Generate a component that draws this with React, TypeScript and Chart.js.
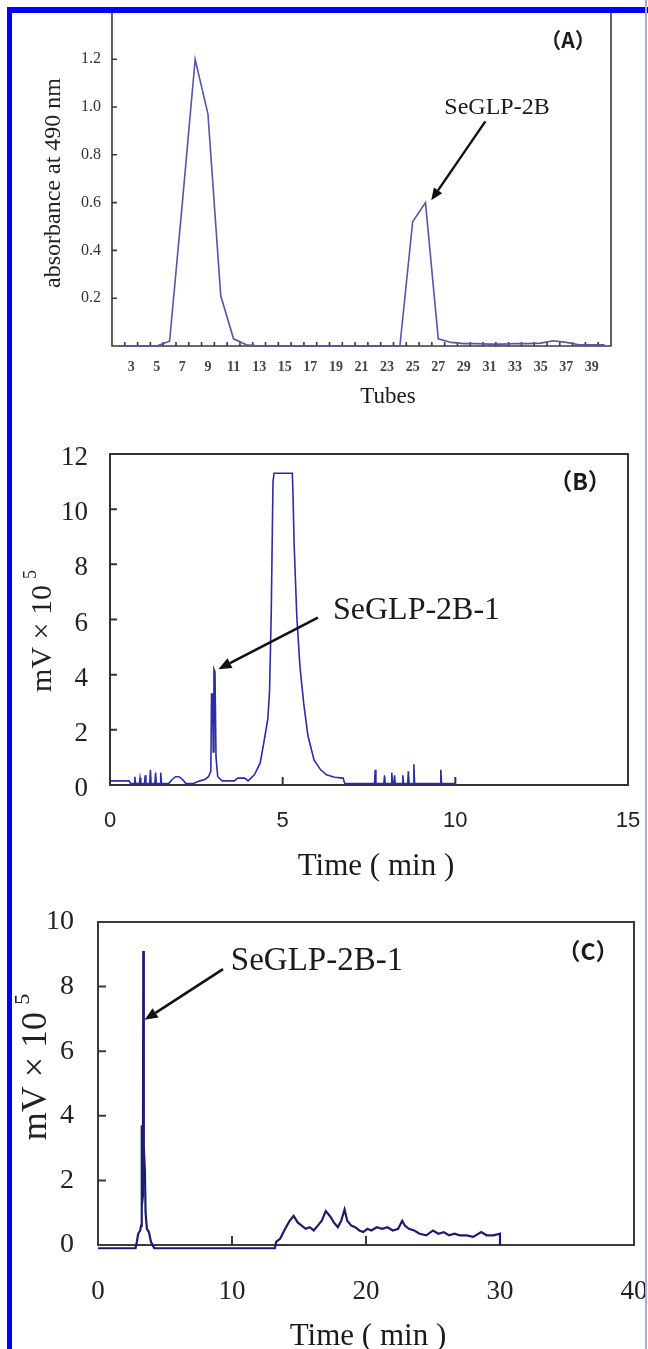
import React, { useEffect, useRef } from "react";
import { Chart, registerables } from "chart.js";

Chart.register(...registerables);

const SERIF = '"Liberation Serif", "Times New Roman", serif';
const SANS = '"Liberation Sans", Arial, sans-serif';
const CJK = '"Noto Sans CJK SC", "Noto Sans", sans-serif';

// ---------- Panel A: gel-filtration elution profile ----------
const A_TUBES = [2, 3, 4, 5, 6, 7, 8, 9, 10, 11, 12, 13, 14, 15, 16, 17, 18, 19, 20, 21, 22, 23, 24, 25, 26, 27, 28, 29, 30, 31, 32, 33, 34, 35, 36, 37, 38, 39, 40];
const A_ABSORBANCE = [
  0, 0, 0, 0, 0.02, 0.6, 1.2, 0.97, 0.21, 0.03, 0.005,
  0, 0, 0, 0, 0, 0, 0, 0, 0, 0, 0, 0,
  0.52, 0.6, 0.03, 0.015, 0.01, 0.01, 0.008, 0.008, 0.01, 0.01, 0.012, 0.022, 0.015, 0.005, 0.005, 0.005,
];
const A_X_TICK_LABELS = [3, 5, 7, 9, 11, 13, 15, 17, 19, 21, 23, 25, 27, 29, 31, 33, 35, 37, 39];
const A_X_TICK_MARKS = [2.5, 3.5, 4.5, 5.5, 6.5, 7.5, 8.5, 9.5, 10.5, 11.5, 12.5, 13.5, 14.5, 15.5, 16.5, 17.5, 18.5, 19.5, 20.5, 21.5, 22.5, 23.5, 24.5, 25.5, 26.5, 27.5, 28.5, 29.5, 30.5, 31.5, 32.5, 33.5, 34.5, 35.5, 36.5, 37.5, 38.5, 39.5];
const A_Y_TICKS = [0.2, 0.4, 0.6, 0.8, 1.0, 1.2];

// ---------- Panel B: HPLC of SeGLP-2B ----------
const B_TIME = [
  0, 0.55, 0.6, 0.7, 0.72, 0.74, 0.85, 0.87, 0.89, 1.0,
  1.02, 1.04, 1.15, 1.17, 1.19, 1.3, 1.32, 1.34, 1.45, 1.47,
  1.49, 1.7, 1.8, 1.9, 2.0, 2.1, 2.2, 2.4, 2.5, 2.6,
  2.75, 2.85, 2.92, 2.94, 2.97, 2.99, 3.01, 3.04, 3.07, 3.12,
  3.25, 3.6, 3.7, 3.9, 4.0, 4.18, 4.35, 4.47, 4.57, 4.62,
  4.67, 4.72, 4.75, 5.28, 5.3, 5.33, 5.41, 5.5, 5.61, 5.73,
  5.91, 6.1, 6.27, 6.5, 6.75, 6.8, 7.66, 7.68, 7.7, 7.93,
  7.95, 7.97, 8.14, 8.16, 8.18, 8.22, 8.24, 8.26, 8.46, 8.48,
  8.5, 8.62, 8.64, 8.66, 8.78, 8.8, 8.82, 9.56, 9.58, 9.6,
  10.0,
];
const B_SIGNAL = [
  0.15, 0.15, 0.05, 0.05, 0.3, 0.05, 0.05, 0.25, 0.05, 0.05,
  0.35, 0.05, 0.05, 0.55, 0.05, 0.05, 0.45, 0.05, 0.05, 0.45,
  0.05, 0.05, 0.2, 0.3, 0.3, 0.2, 0.05, 0.05, 0.1, 0.15,
  0.2, 0.3, 0.5, 3.3, 3.3, 1.2, 4.2, 4.1, 1.0, 0.3,
  0.15, 0.15, 0.25, 0.25, 0.15, 0.37, 0.8, 1.65, 2.4, 3.4,
  6.3, 11.0, 11.3, 11.3, 10.5, 8.8, 6.1, 4.3, 2.95, 1.8,
  0.9, 0.55, 0.37, 0.28, 0.25, 0.05, 0.05, 0.55, 0.05, 0.05,
  0.35, 0.05, 0.05, 0.45, 0.05, 0.05, 0.35, 0.05, 0.05, 0.35,
  0.05, 0.05, 0.5, 0.05, 0.05, 0.75, 0.05, 0.05, 0.55, 0.05,
  0.05,
];
const B_X_TICKS = [0, 5, 10, 15];
const B_Y_TICKS = [0, 2, 4, 6, 8, 10, 12];

// ---------- Panel C: HPLC of SeGLP-2B-1 ----------
const C_TIME = [
  0, 2.8, 2.9, 3.0, 3.15, 3.22, 3.25, 3.28, 3.35, 3.38,
  3.42, 3.5, 3.55, 3.65, 3.8, 3.95, 4.2, 13.2, 13.3, 13.6,
  13.9, 14.1, 14.3, 14.6, 14.9, 15.2, 15.5, 15.8, 16.1, 16.4,
  16.7, 17.0, 17.3, 17.6, 17.9, 18.15, 18.4, 18.6, 18.9, 19.2,
  19.5, 19.8, 20.1, 20.4, 20.8, 21.2, 21.6, 22.0, 22.4, 22.7,
  22.9, 23.2, 23.6, 24.0, 24.5, 25.0, 25.4, 25.8, 26.2, 26.6,
  27.0, 27.5, 28.0, 28.6, 29.0, 29.5, 30.0, 30.0,
];
const C_SIGNAL = [
  -0.1, -0.1, 0.1, 0.35, 0.45, 0.6, 3.7, 1.2, 1.5, 9.1,
  3.0, 2.3, 1.0, 0.5, 0.4, 0.1, -0.1, -0.1, 0.1, 0.2,
  0.45, 0.6, 0.75, 0.9, 0.7, 0.6, 0.5, 0.55, 0.45, 0.6,
  0.75, 1.05, 0.9, 0.7, 0.55, 0.75, 1.1, 0.75, 0.6, 0.55,
  0.45, 0.4, 0.5, 0.45, 0.55, 0.5, 0.55, 0.45, 0.5, 0.75,
  0.6, 0.5, 0.45, 0.35, 0.3, 0.45, 0.35, 0.4, 0.3, 0.35,
  0.3, 0.3, 0.25, 0.4, 0.3, 0.3, 0.35, 0.0,
];
const C_X_TICKS = [0, 10, 20, 30, 40];
const C_X_TICK_MARKS = [10, 20, 30];
const C_Y_TICKS = [0, 2, 4, 6, 8, 10];

type TextItem = { text: string; font: string; x: number; y: number; align?: CanvasTextAlign; color?: string };

type PanelSpec = {
  top: number;
  height: number;
  area: { left: number; top: number; right: number; bottom: number };
  xMin: number; xMax: number; yMin: number; yMax: number;
  xs: number[]; ys: number[];
  color: string; lineWidth: number;
  xTicks: number[]; yTicks: number[];
  xFmt: (v: number) => string; yFmt: (v: number) => string;
  xTickFont: any; yTickFont: any; xTickColor: string; yTickColor: string;
  xTickPad: number; yTickPad: number; yLabelOffset: number;
  xMarks: number[]; yMarks: number[]; xMarkLen: number; yMarkLen: number;
  frameTop: boolean; frameWidth: number; frameColor: string;
  texts: TextItem[];
  yTitle: { main: string; sup: string; size: number; x: number; y: number; color: string };
  arrow: { from: [number, number]; to: [number, number]; width: number; head: number };
};

const W = 648;

const PANELS: PanelSpec[] = [
  {
    top: 0, height: 420,
    area: { left: 112, top: 11.4, right: 611, bottom: 346 },
    xMin: 1.5, xMax: 40.5, yMin: 0, yMax: 1.4,
    xs: A_TUBES, ys: A_ABSORBANCE, color: "#5656a8", lineWidth: 1.6,
    xTicks: A_X_TICK_LABELS, yTicks: A_Y_TICKS,
    xFmt: (v) => String(v), yFmt: (v) => v.toFixed(1),
    xTickFont: { family: SERIF, size: 14, weight: "bold" },
    yTickFont: { family: SERIF, size: 16 },
    xTickColor: "#444", yTickColor: "#333",
    xTickPad: 13, yTickPad: 11, yLabelOffset: 0,
    xMarks: A_X_TICK_MARKS, yMarks: A_Y_TICKS, xMarkLen: 4, yMarkLen: 5,
    frameTop: false, frameWidth: 1.6, frameColor: "#3a3a3a",
    texts: [
      { text: "（A）", font: `bold 21px ${CJK}`, x: 568, y: 40 },
      { text: "SeGLP-2B", font: `24px ${SERIF}`, x: 497, y: 108 },
      { text: "Tubes", font: `23px ${SERIF}`, x: 388, y: 397 },
    ],
    yTitle: { main: "absorbance at 490 nm", sup: "", size: 24, x: 54, y: 183, color: "#222" },
    arrow: { from: [30.68, 0.94], to: [26.45, 0.61], width: 2.4, head: 12 },
  },
  {
    top: 420, height: 480,
    area: { left: 110, top: 34, right: 628, bottom: 365 },
    xMin: 0, xMax: 15, yMin: 0, yMax: 12,
    xs: B_TIME, ys: B_SIGNAL, color: "#2c2ca4", lineWidth: 1.6,
    xTicks: B_X_TICKS, yTicks: B_Y_TICKS,
    xFmt: (v) => String(v), yFmt: (v) => String(v),
    xTickFont: { family: SANS, size: 22 },
    yTickFont: { family: SERIF, size: 27 },
    xTickColor: "#222", yTickColor: "#222",
    xTickPad: 23, yTickPad: 22, yLabelOffset: 4,
    xMarks: [5, 10], yMarks: B_Y_TICKS, xMarkLen: 8, yMarkLen: 7,
    frameTop: true, frameWidth: 2, frameColor: "#333",
    texts: [
      { text: "（B）", font: `bold 23px ${CJK}`, x: 580, y: 61 },
      { text: "SeGLP-2B-1", font: `32px ${SERIF}`, x: 333, y: 191, align: "left" },
      { text: "Time ( min )", font: `31px ${SERIF}`, x: 376, y: 447 },
    ],
    yTitle: { main: "mV × 10", sup: "5", size: 30, x: 43, y: 211, color: "#222" },
    arrow: { from: [6.02, 6.07], to: [3.14, 4.2], width: 2.6, head: 13 },
  },
  {
    top: 900, height: 449,
    area: { left: 98, top: 22, right: 634, bottom: 345 },
    xMin: 0, xMax: 40, yMin: 0, yMax: 10,
    xs: C_TIME, ys: C_SIGNAL, color: "#1c1c6c", lineWidth: 2.2,
    xTicks: C_X_TICKS, yTicks: C_Y_TICKS,
    xFmt: (v) => String(v), yFmt: (v) => String(v),
    xTickFont: { family: SERIF, size: 27 },
    yTickFont: { family: SERIF, size: 28 },
    xTickColor: "#222", yTickColor: "#222",
    xTickPad: 31, yTickPad: 24, yLabelOffset: 0,
    xMarks: C_X_TICK_MARKS, yMarks: C_Y_TICKS, xMarkLen: 9, yMarkLen: 8,
    frameTop: true, frameWidth: 2, frameColor: "#3a3a3a",
    texts: [
      { text: "（C）", font: `bold 23px ${CJK}`, x: 588, y: 51 },
      { text: "SeGLP-2B-1", font: `33px ${SERIF}`, x: 317, y: 61 },
      { text: "Time ( min )", font: `31px ${SERIF}`, x: 368, y: 437 },
    ],
    yTitle: { main: "mV × 10", sup: "5", size: 36, x: 37, y: 167, color: "#222" },
    arrow: { from: [9.33, 8.54], to: [3.48, 6.97], width: 2.6, head: 13 },
  },
];

function drawArrow(ctx: CanvasRenderingContext2D, x1: number, y1: number, x2: number, y2: number, width: number, head: number) {
  const ang = Math.atan2(y2 - y1, x2 - x1);
  const bx = x2 - head * Math.cos(ang);
  const by = y2 - head * Math.sin(ang);
  const hw = head * 0.42;
  ctx.lineWidth = width;
  ctx.beginPath();
  ctx.moveTo(x1, y1);
  ctx.lineTo(bx, by);
  ctx.stroke();
  ctx.beginPath();
  ctx.moveTo(x2, y2);
  ctx.lineTo(bx + hw * Math.sin(ang), by - hw * Math.cos(ang));
  ctx.lineTo(bx - hw * Math.sin(ang), by + hw * Math.cos(ang));
  ctx.closePath();
  ctx.fill();
}

function decoPlugin(p: PanelSpec) {
  return {
    id: "deco",
    beforeDatasetsDraw(chart: any) {
      const { ctx, chartArea: a } = chart;
      const xs = chart.scales.x;
      const ys = chart.scales.y;
      ctx.save();
      ctx.strokeStyle = p.frameColor;
      ctx.lineWidth = p.frameWidth;
      ctx.lineCap = "square";
      ctx.beginPath();
      if (p.frameTop) {
        ctx.rect(a.left, a.top, a.right - a.left, a.bottom - a.top);
      } else {
        ctx.moveTo(a.left, a.top);
        ctx.lineTo(a.left, a.bottom);
        ctx.lineTo(a.right, a.bottom);
        ctx.lineTo(a.right, a.top);
      }
      ctx.stroke();
      ctx.lineCap = "butt";
      ctx.beginPath();
      for (const v of p.xMarks) {
        const px = xs.getPixelForValue(v);
        ctx.moveTo(px, a.bottom);
        ctx.lineTo(px, a.bottom - p.xMarkLen);
      }
      for (const v of p.yMarks) {
        const py = ys.getPixelForValue(v);
        ctx.moveTo(a.left, py);
        ctx.lineTo(a.left + p.yMarkLen, py);
      }
      ctx.stroke();
      ctx.restore();
    },
    afterDraw(chart: any) {
      const { ctx } = chart;
      const xs = chart.scales.x;
      const ys = chart.scales.y;
      ctx.save();
      ctx.textBaseline = "middle";
      for (const t of p.texts) {
        ctx.font = t.font;
        ctx.fillStyle = t.color || "#1a1a1a";
        ctx.textAlign = t.align || "center";
        ctx.fillText(t.text, t.x, t.y);
      }
      // rotated y title
      const yt = p.yTitle;
      ctx.save();
      ctx.translate(yt.x, yt.y);
      ctx.rotate(-Math.PI / 2);
      ctx.fillStyle = yt.color;
      ctx.font = `${yt.size}px ${SERIF}`;
      const mw = ctx.measureText(yt.main).width;
      let sw = 0;
      const supSize = Math.round(yt.size * 0.6);
      if (yt.sup) {
        ctx.font = `${supSize}px ${SERIF}`;
        sw = ctx.measureText(yt.sup).width + yt.size * 0.2;
      }
      const start = -(mw + sw) / 2;
      ctx.textAlign = "left";
      ctx.font = `${yt.size}px ${SERIF}`;
      ctx.fillText(yt.main, start, 0);
      if (yt.sup) {
        ctx.font = `${supSize}px ${SERIF}`;
        ctx.fillText(yt.sup, start + mw + yt.size * 0.2, -yt.size * 0.38);
      }
      ctx.restore();
      // arrow
      const ar = p.arrow;
      ctx.strokeStyle = "#111";
      ctx.fillStyle = "#111";
      drawArrow(
        ctx,
        xs.getPixelForValue(ar.from[0]), ys.getPixelForValue(ar.from[1]),
        xs.getPixelForValue(ar.to[0]), ys.getPixelForValue(ar.to[1]),
        ar.width, ar.head
      );
      ctx.restore();
    },
  };
}

function zeroPadding(s: any) {
  s.paddingTop = 0;
  s.paddingBottom = 0;
  s.paddingLeft = 0;
  s.paddingRight = 0;
}

function buildConfig(p: PanelSpec): any {
  return {
    type: "line",
    data: {
      datasets: [
        {
          data: p.xs.map((x, i) => ({ x, y: p.ys[i] })),
          borderColor: p.color,
          borderWidth: p.lineWidth,
          pointRadius: 0,
          tension: 0,
          fill: false,
          clip: false,
          borderJoinStyle: "miter",
        },
      ],
    },
    options: {
      animation: false,
      responsive: false,
      maintainAspectRatio: false,
      devicePixelRatio: 1,
      events: [],
      layout: { padding: { left: 0, top: p.area.top, right: W - p.area.right, bottom: 0 } },
      plugins: { legend: { display: false }, tooltip: { enabled: false }, title: { display: false } },
      scales: {
        x: {
          type: "linear",
          min: p.xMin,
          max: p.xMax,
          afterBuildTicks: (s: any) => { s.ticks = p.xTicks.map((v) => ({ value: v })); },
          afterFit: (s: any) => { s.height = p.height - p.area.bottom; zeroPadding(s); },
          grid: { display: false, drawTicks: false },
          border: { display: false },
          ticks: {
            autoSkip: false,
            maxRotation: 0,
            minRotation: 0,
            padding: p.xTickPad,
            font: p.xTickFont,
            color: p.xTickColor,
            callback: (v: any) => p.xFmt(Number(v)),
          },
        },
        y: {
          type: "linear",
          min: p.yMin,
          max: p.yMax,
          afterBuildTicks: (s: any) => { s.ticks = p.yTicks.map((v) => ({ value: v })); },
          afterFit: (s: any) => { s.width = p.area.left; zeroPadding(s); },
          grid: { display: false, drawTicks: false },
          border: { display: false },
          ticks: {
            autoSkip: false,
            padding: p.yTickPad,
            labelOffset: p.yLabelOffset,
            font: p.yTickFont,
            color: p.yTickColor,
            callback: (v: any) => p.yFmt(Number(v)),
          },
        },
      },
    },
    plugins: [decoPlugin(p)],
  };
}

function Panel({ spec }: { spec: PanelSpec }) {
  const ref = useRef<HTMLCanvasElement>(null);
  useEffect(() => {
    const chart = new Chart(ref.current as HTMLCanvasElement, buildConfig(spec));
    return () => chart.destroy();
  }, [spec]);
  return (
    <canvas
      ref={ref}
      width={W}
      height={spec.height}
      style={{ position: "absolute", left: 0, top: spec.top, width: W, height: spec.height, display: "block" }}
    />
  );
}

export default function App() {
  return (
    <div style={{ position: "absolute", left: 0, top: 0, width: W, height: 1349, background: "#fff", overflow: "hidden" }}>
      {PANELS.map((p, i) => (
        <Panel key={i} spec={p} />
      ))}
      <div style={{ position: "absolute", left: 7, top: 7, width: 641, height: 6, background: "#0000ff" }} />
      <div style={{ position: "absolute", left: 7, top: 7, width: 5, height: 1342, background: "#0000ff" }} />
      <div style={{ position: "absolute", left: 645, top: 0, width: 2, height: 1349, background: "#a9a9ee" }} />
    </div>
  );
}
